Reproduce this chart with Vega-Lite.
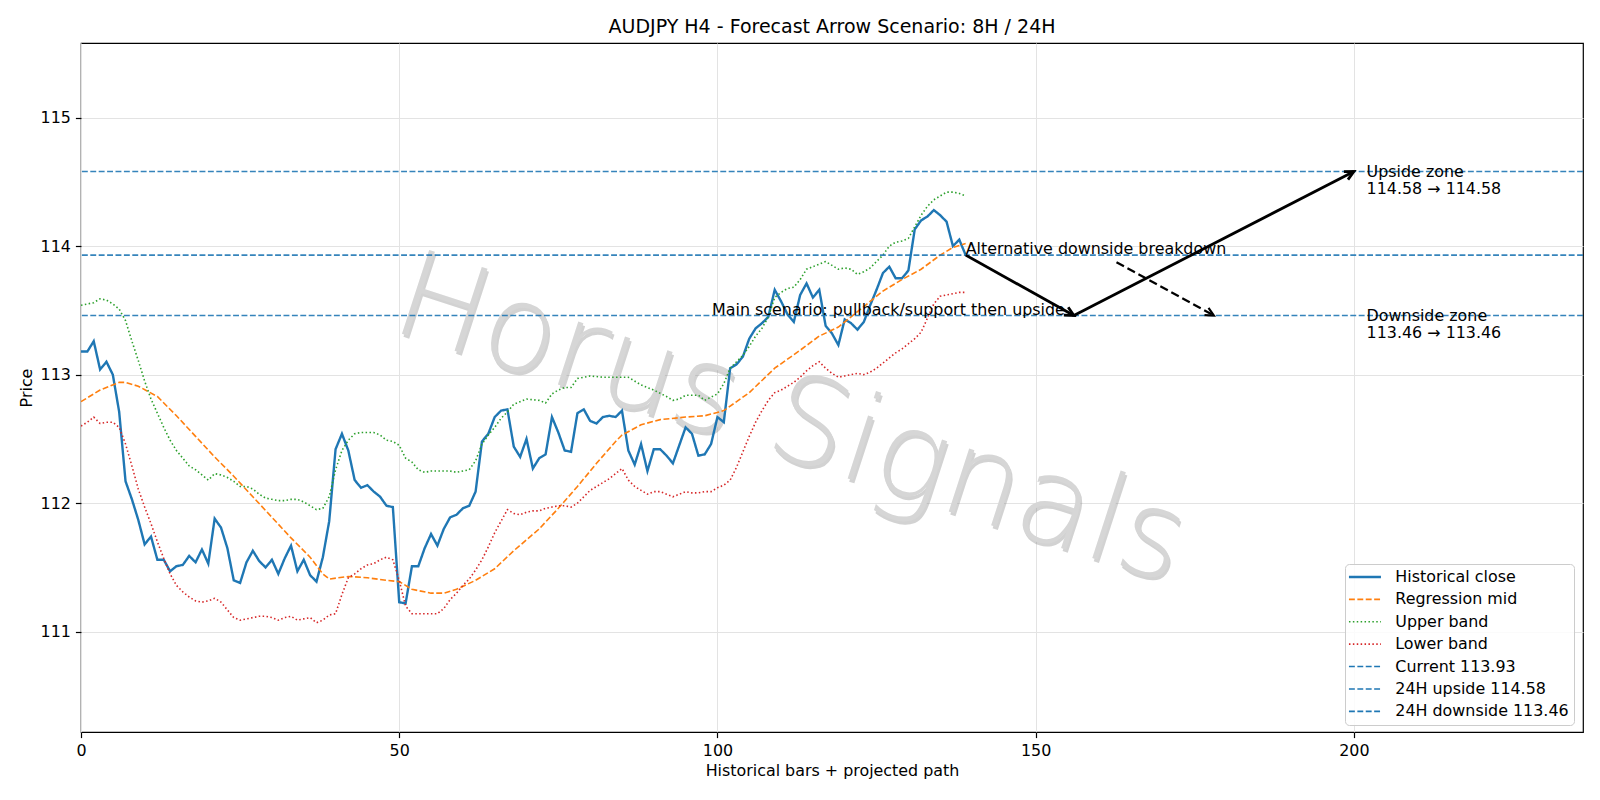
{
  "$schema": "https://vega.github.io/schema/vega-lite/v6.json",
  "width": 1502,
  "height": 689,
  "autosize": {"type": "none"},
  "padding": {"left": 81, "top": 43, "right": 17, "bottom": 68},
  "background": "white",
  "title": {"text": "AUDJPY H4 - Forecast Arrow Scenario: 8H / 24H", "font": "DejaVu Sans", "fontSize": 19, "fontWeight": "normal", "color": "black", "baseline": "alphabetic", "offset": 9.5, "dy": 18.3, "anchor": "middle"},
  "config": {
    "font": "DejaVu Sans",
    "view": {"stroke": "black", "strokeWidth": 1.2},
    "axis": {"domain": false, "grid": true, "gridColor": "#e3e3e3", "gridWidth": 1, "tickColor": "black", "tickSize": 5.6, "tickWidth": 1.2, "labelFont": "DejaVu Sans", "labelFontSize": 15.9, "labelColor": "black", "labelPadding": 5, "titleFont": "DejaVu Sans", "titleFontSize": 15.9, "titleFontWeight": "normal", "titleColor": "black", "labelFlush": false, "labelOverlap": false},
    "legend": {"orient": "none", "legendX": 1264, "legendY": 521, "title": null, "symbolType": "M-1.8,0H4.6", "symbolSize": 100, "labelFont": "DejaVu Sans", "labelFontSize": 15.9, "labelColor": "black", "labelOffset": 29.4, "padding": 5, "rowPadding": 5.4, "columnPadding": 0, "fillColor": "rgba(255,255,255,0.85)", "strokeColor": "#cccccc", "cornerRadius": 4, "labelLimit": 400}
  },
  "datasets": {
    "lines": [
      {"series": "Historical close", "x": 0, "price": 113.18}, {"series": "Historical close", "x": 1, "price": 113.18}, {"series": "Historical close", "x": 2, "price": 113.26}, {"series": "Historical close", "x": 3, "price": 113.04}, {"series": "Historical close", "x": 4, "price": 113.10}, {"series": "Historical close", "x": 5, "price": 113.00}, {"series": "Historical close", "x": 6, "price": 112.71}, {"series": "Historical close", "x": 7, "price": 112.17}, {"series": "Historical close", "x": 8, "price": 112.03}, {"series": "Historical close", "x": 9, "price": 111.87},
      {"series": "Historical close", "x": 10, "price": 111.68}, {"series": "Historical close", "x": 11, "price": 111.74}, {"series": "Historical close", "x": 12, "price": 111.56}, {"series": "Historical close", "x": 13, "price": 111.56}, {"series": "Historical close", "x": 14, "price": 111.47}, {"series": "Historical close", "x": 15, "price": 111.51}, {"series": "Historical close", "x": 16, "price": 111.52}, {"series": "Historical close", "x": 17, "price": 111.59}, {"series": "Historical close", "x": 18, "price": 111.54}, {"series": "Historical close", "x": 19, "price": 111.64},
      {"series": "Historical close", "x": 20, "price": 111.53}, {"series": "Historical close", "x": 21, "price": 111.88}, {"series": "Historical close", "x": 22, "price": 111.81}, {"series": "Historical close", "x": 23, "price": 111.65}, {"series": "Historical close", "x": 24, "price": 111.40}, {"series": "Historical close", "x": 25, "price": 111.38}, {"series": "Historical close", "x": 26, "price": 111.54}, {"series": "Historical close", "x": 27, "price": 111.63}, {"series": "Historical close", "x": 28, "price": 111.55}, {"series": "Historical close", "x": 29, "price": 111.50},
      {"series": "Historical close", "x": 30, "price": 111.56}, {"series": "Historical close", "x": 31, "price": 111.45}, {"series": "Historical close", "x": 32, "price": 111.57}, {"series": "Historical close", "x": 33, "price": 111.67}, {"series": "Historical close", "x": 34, "price": 111.47}, {"series": "Historical close", "x": 35, "price": 111.56}, {"series": "Historical close", "x": 36, "price": 111.44}, {"series": "Historical close", "x": 37, "price": 111.39}, {"series": "Historical close", "x": 38, "price": 111.58}, {"series": "Historical close", "x": 39, "price": 111.86},
      {"series": "Historical close", "x": 40, "price": 112.42}, {"series": "Historical close", "x": 41, "price": 112.54}, {"series": "Historical close", "x": 42, "price": 112.41}, {"series": "Historical close", "x": 43, "price": 112.18}, {"series": "Historical close", "x": 44, "price": 112.12}, {"series": "Historical close", "x": 45, "price": 112.14}, {"series": "Historical close", "x": 46, "price": 112.09}, {"series": "Historical close", "x": 47, "price": 112.05}, {"series": "Historical close", "x": 48, "price": 111.98}, {"series": "Historical close", "x": 49, "price": 111.97},
      {"series": "Historical close", "x": 50, "price": 111.23}, {"series": "Historical close", "x": 51, "price": 111.22}, {"series": "Historical close", "x": 52, "price": 111.51}, {"series": "Historical close", "x": 53, "price": 111.51}, {"series": "Historical close", "x": 54, "price": 111.65}, {"series": "Historical close", "x": 55, "price": 111.76}, {"series": "Historical close", "x": 56, "price": 111.67}, {"series": "Historical close", "x": 57, "price": 111.80}, {"series": "Historical close", "x": 58, "price": 111.89}, {"series": "Historical close", "x": 59, "price": 111.91},
      {"series": "Historical close", "x": 60, "price": 111.96}, {"series": "Historical close", "x": 61, "price": 111.98}, {"series": "Historical close", "x": 62, "price": 112.09}, {"series": "Historical close", "x": 63, "price": 112.48}, {"series": "Historical close", "x": 64, "price": 112.54}, {"series": "Historical close", "x": 65, "price": 112.67}, {"series": "Historical close", "x": 66, "price": 112.72}, {"series": "Historical close", "x": 67, "price": 112.73}, {"series": "Historical close", "x": 68, "price": 112.44}, {"series": "Historical close", "x": 69, "price": 112.36},
      {"series": "Historical close", "x": 70, "price": 112.50}, {"series": "Historical close", "x": 71, "price": 112.27}, {"series": "Historical close", "x": 72, "price": 112.35}, {"series": "Historical close", "x": 73, "price": 112.38}, {"series": "Historical close", "x": 74, "price": 112.67}, {"series": "Historical close", "x": 75, "price": 112.55}, {"series": "Historical close", "x": 76, "price": 112.41}, {"series": "Historical close", "x": 77, "price": 112.40}, {"series": "Historical close", "x": 78, "price": 112.70}, {"series": "Historical close", "x": 79, "price": 112.73},
      {"series": "Historical close", "x": 80, "price": 112.64}, {"series": "Historical close", "x": 81, "price": 112.62}, {"series": "Historical close", "x": 82, "price": 112.67}, {"series": "Historical close", "x": 83, "price": 112.68}, {"series": "Historical close", "x": 84, "price": 112.67}, {"series": "Historical close", "x": 85, "price": 112.72}, {"series": "Historical close", "x": 86, "price": 112.41}, {"series": "Historical close", "x": 87, "price": 112.30}, {"series": "Historical close", "x": 88, "price": 112.46}, {"series": "Historical close", "x": 89, "price": 112.25},
      {"series": "Historical close", "x": 90, "price": 112.42}, {"series": "Historical close", "x": 91, "price": 112.42}, {"series": "Historical close", "x": 92, "price": 112.37}, {"series": "Historical close", "x": 93, "price": 112.31}, {"series": "Historical close", "x": 94, "price": 112.45}, {"series": "Historical close", "x": 95, "price": 112.59}, {"series": "Historical close", "x": 96, "price": 112.54}, {"series": "Historical close", "x": 97, "price": 112.37}, {"series": "Historical close", "x": 98, "price": 112.38}, {"series": "Historical close", "x": 99, "price": 112.46},
      {"series": "Historical close", "x": 100, "price": 112.67}, {"series": "Historical close", "x": 101, "price": 112.63}, {"series": "Historical close", "x": 102, "price": 113.05}, {"series": "Historical close", "x": 103, "price": 113.08}, {"series": "Historical close", "x": 104, "price": 113.14}, {"series": "Historical close", "x": 105, "price": 113.28}, {"series": "Historical close", "x": 106, "price": 113.36}, {"series": "Historical close", "x": 107, "price": 113.40}, {"series": "Historical close", "x": 108, "price": 113.45}, {"series": "Historical close", "x": 109, "price": 113.66},
      {"series": "Historical close", "x": 110, "price": 113.57}, {"series": "Historical close", "x": 111, "price": 113.47}, {"series": "Historical close", "x": 112, "price": 113.41}, {"series": "Historical close", "x": 113, "price": 113.62}, {"series": "Historical close", "x": 114, "price": 113.71}, {"series": "Historical close", "x": 115, "price": 113.60}, {"series": "Historical close", "x": 116, "price": 113.66}, {"series": "Historical close", "x": 117, "price": 113.38}, {"series": "Historical close", "x": 118, "price": 113.32}, {"series": "Historical close", "x": 119, "price": 113.23},
      {"series": "Historical close", "x": 120, "price": 113.43}, {"series": "Historical close", "x": 121, "price": 113.40}, {"series": "Historical close", "x": 122, "price": 113.35}, {"series": "Historical close", "x": 123, "price": 113.41}, {"series": "Historical close", "x": 124, "price": 113.54}, {"series": "Historical close", "x": 125, "price": 113.66}, {"series": "Historical close", "x": 126, "price": 113.79}, {"series": "Historical close", "x": 127, "price": 113.84}, {"series": "Historical close", "x": 128, "price": 113.75}, {"series": "Historical close", "x": 129, "price": 113.75},
      {"series": "Historical close", "x": 130, "price": 113.81}, {"series": "Historical close", "x": 131, "price": 114.13}, {"series": "Historical close", "x": 132, "price": 114.20}, {"series": "Historical close", "x": 133, "price": 114.23}, {"series": "Historical close", "x": 134, "price": 114.28}, {"series": "Historical close", "x": 135, "price": 114.24}, {"series": "Historical close", "x": 136, "price": 114.19}, {"series": "Historical close", "x": 137, "price": 114.00}, {"series": "Historical close", "x": 138, "price": 114.05}, {"series": "Historical close", "x": 139, "price": 113.93},

      {"series": "Regression mid", "x": 0, "price": 112.79}, {"series": "Regression mid", "x": 3, "price": 112.88}, {"series": "Regression mid", "x": 6, "price": 112.94}, {"series": "Regression mid", "x": 7, "price": 112.94}, {"series": "Regression mid", "x": 9, "price": 112.91}, {"series": "Regression mid", "x": 12, "price": 112.83}, {"series": "Regression mid", "x": 15, "price": 112.68}, {"series": "Regression mid", "x": 18, "price": 112.52}, {"series": "Regression mid", "x": 21, "price": 112.36}, {"series": "Regression mid", "x": 24, "price": 112.21},
      {"series": "Regression mid", "x": 27, "price": 112.05}, {"series": "Regression mid", "x": 30, "price": 111.89}, {"series": "Regression mid", "x": 33, "price": 111.73}, {"series": "Regression mid", "x": 36, "price": 111.58}, {"series": "Regression mid", "x": 38, "price": 111.45}, {"series": "Regression mid", "x": 39, "price": 111.41}, {"series": "Regression mid", "x": 42, "price": 111.43}, {"series": "Regression mid", "x": 45, "price": 111.42}, {"series": "Regression mid", "x": 48, "price": 111.40}, {"series": "Regression mid", "x": 50, "price": 111.39},
      {"series": "Regression mid", "x": 52, "price": 111.33}, {"series": "Regression mid", "x": 55, "price": 111.30}, {"series": "Regression mid", "x": 57, "price": 111.30}, {"series": "Regression mid", "x": 59, "price": 111.33}, {"series": "Regression mid", "x": 62, "price": 111.40}, {"series": "Regression mid", "x": 65, "price": 111.49}, {"series": "Regression mid", "x": 68, "price": 111.63}, {"series": "Regression mid", "x": 72, "price": 111.80}, {"series": "Regression mid", "x": 75, "price": 111.96}, {"series": "Regression mid", "x": 78, "price": 112.13},
      {"series": "Regression mid", "x": 81, "price": 112.31}, {"series": "Regression mid", "x": 84, "price": 112.48}, {"series": "Regression mid", "x": 85, "price": 112.53}, {"series": "Regression mid", "x": 88, "price": 112.61}, {"series": "Regression mid", "x": 91, "price": 112.65}, {"series": "Regression mid", "x": 95, "price": 112.67}, {"series": "Regression mid", "x": 98, "price": 112.68}, {"series": "Regression mid", "x": 101, "price": 112.72}, {"series": "Regression mid", "x": 105, "price": 112.86}, {"series": "Regression mid", "x": 109, "price": 113.05},
      {"series": "Regression mid", "x": 113, "price": 113.19}, {"series": "Regression mid", "x": 116, "price": 113.30}, {"series": "Regression mid", "x": 119, "price": 113.37}, {"series": "Regression mid", "x": 122, "price": 113.49}, {"series": "Regression mid", "x": 126, "price": 113.65}, {"series": "Regression mid", "x": 129, "price": 113.74}, {"series": "Regression mid", "x": 132, "price": 113.82}, {"series": "Regression mid", "x": 135, "price": 113.93}, {"series": "Regression mid", "x": 137, "price": 113.99}, {"series": "Regression mid", "x": 139, "price": 114.02},

      {"series": "Upper band", "x": 0, "price": 113.54}, {"series": "Upper band", "x": 2, "price": 113.56}, {"series": "Upper band", "x": 3, "price": 113.59}, {"series": "Upper band", "x": 4, "price": 113.58}, {"series": "Upper band", "x": 5, "price": 113.55}, {"series": "Upper band", "x": 6, "price": 113.51}, {"series": "Upper band", "x": 7, "price": 113.42}, {"series": "Upper band", "x": 8, "price": 113.26}, {"series": "Upper band", "x": 9, "price": 113.11}, {"series": "Upper band", "x": 10, "price": 112.95},
      {"series": "Upper band", "x": 11, "price": 112.81}, {"series": "Upper band", "x": 12, "price": 112.70}, {"series": "Upper band", "x": 13, "price": 112.59}, {"series": "Upper band", "x": 14, "price": 112.49}, {"series": "Upper band", "x": 15, "price": 112.41}, {"series": "Upper band", "x": 16, "price": 112.35}, {"series": "Upper band", "x": 17, "price": 112.29}, {"series": "Upper band", "x": 18, "price": 112.26}, {"series": "Upper band", "x": 19, "price": 112.22}, {"series": "Upper band", "x": 20, "price": 112.18},
      {"series": "Upper band", "x": 21, "price": 112.23}, {"series": "Upper band", "x": 22, "price": 112.22}, {"series": "Upper band", "x": 23, "price": 112.20}, {"series": "Upper band", "x": 24, "price": 112.17}, {"series": "Upper band", "x": 25, "price": 112.13}, {"series": "Upper band", "x": 26, "price": 112.13}, {"series": "Upper band", "x": 27, "price": 112.11}, {"series": "Upper band", "x": 28, "price": 112.07}, {"series": "Upper band", "x": 29, "price": 112.04}, {"series": "Upper band", "x": 30, "price": 112.03},
      {"series": "Upper band", "x": 31, "price": 112.02}, {"series": "Upper band", "x": 32, "price": 112.02}, {"series": "Upper band", "x": 33, "price": 112.03}, {"series": "Upper band", "x": 34, "price": 112.03}, {"series": "Upper band", "x": 35, "price": 112.01}, {"series": "Upper band", "x": 36, "price": 111.98}, {"series": "Upper band", "x": 37, "price": 111.95}, {"series": "Upper band", "x": 38, "price": 111.96}, {"series": "Upper band", "x": 39, "price": 112.05}, {"series": "Upper band", "x": 40, "price": 112.26},
      {"series": "Upper band", "x": 41, "price": 112.41}, {"series": "Upper band", "x": 42, "price": 112.49}, {"series": "Upper band", "x": 43, "price": 112.54}, {"series": "Upper band", "x": 44, "price": 112.55}, {"series": "Upper band", "x": 45, "price": 112.55}, {"series": "Upper band", "x": 46, "price": 112.55}, {"series": "Upper band", "x": 47, "price": 112.53}, {"series": "Upper band", "x": 48, "price": 112.49}, {"series": "Upper band", "x": 49, "price": 112.48}, {"series": "Upper band", "x": 50, "price": 112.45},
      {"series": "Upper band", "x": 51, "price": 112.35}, {"series": "Upper band", "x": 52, "price": 112.32}, {"series": "Upper band", "x": 53, "price": 112.26}, {"series": "Upper band", "x": 54, "price": 112.24}, {"series": "Upper band", "x": 55, "price": 112.25}, {"series": "Upper band", "x": 56, "price": 112.25}, {"series": "Upper band", "x": 57, "price": 112.25}, {"series": "Upper band", "x": 58, "price": 112.25}, {"series": "Upper band", "x": 59, "price": 112.24}, {"series": "Upper band", "x": 60, "price": 112.25},
      {"series": "Upper band", "x": 61, "price": 112.26}, {"series": "Upper band", "x": 62, "price": 112.33}, {"series": "Upper band", "x": 63, "price": 112.46}, {"series": "Upper band", "x": 64, "price": 112.53}, {"series": "Upper band", "x": 65, "price": 112.59}, {"series": "Upper band", "x": 66, "price": 112.66}, {"series": "Upper band", "x": 67, "price": 112.71}, {"series": "Upper band", "x": 68, "price": 112.77}, {"series": "Upper band", "x": 69, "price": 112.79}, {"series": "Upper band", "x": 70, "price": 112.81},
      {"series": "Upper band", "x": 72, "price": 112.80}, {"series": "Upper band", "x": 73, "price": 112.78}, {"series": "Upper band", "x": 74, "price": 112.85}, {"series": "Upper band", "x": 75, "price": 112.88}, {"series": "Upper band", "x": 76, "price": 112.90}, {"series": "Upper band", "x": 77, "price": 112.90}, {"series": "Upper band", "x": 78, "price": 112.97}, {"series": "Upper band", "x": 79, "price": 112.98}, {"series": "Upper band", "x": 80, "price": 112.99}, {"series": "Upper band", "x": 82, "price": 112.98},
      {"series": "Upper band", "x": 84, "price": 112.98}, {"series": "Upper band", "x": 86, "price": 112.98}, {"series": "Upper band", "x": 88, "price": 112.92}, {"series": "Upper band", "x": 90, "price": 112.88}, {"series": "Upper band", "x": 92, "price": 112.83}, {"series": "Upper band", "x": 93, "price": 112.80}, {"series": "Upper band", "x": 94, "price": 112.81}, {"series": "Upper band", "x": 95, "price": 112.84}, {"series": "Upper band", "x": 97, "price": 112.84}, {"series": "Upper band", "x": 98, "price": 112.80},
      {"series": "Upper band", "x": 100, "price": 112.85}, {"series": "Upper band", "x": 101, "price": 112.93}, {"series": "Upper band", "x": 102, "price": 113.05}, {"series": "Upper band", "x": 103, "price": 113.10}, {"series": "Upper band", "x": 104, "price": 113.15}, {"series": "Upper band", "x": 105, "price": 113.22}, {"series": "Upper band", "x": 106, "price": 113.30}, {"series": "Upper band", "x": 107, "price": 113.36}, {"series": "Upper band", "x": 108, "price": 113.45}, {"series": "Upper band", "x": 109, "price": 113.60},
      {"series": "Upper band", "x": 110, "price": 113.64}, {"series": "Upper band", "x": 111, "price": 113.67}, {"series": "Upper band", "x": 112, "price": 113.68}, {"series": "Upper band", "x": 113, "price": 113.74}, {"series": "Upper band", "x": 114, "price": 113.82}, {"series": "Upper band", "x": 115, "price": 113.84}, {"series": "Upper band", "x": 116, "price": 113.86}, {"series": "Upper band", "x": 117, "price": 113.88}, {"series": "Upper band", "x": 118, "price": 113.85}, {"series": "Upper band", "x": 119, "price": 113.82},
      {"series": "Upper band", "x": 120, "price": 113.83}, {"series": "Upper band", "x": 121, "price": 113.82}, {"series": "Upper band", "x": 122, "price": 113.78}, {"series": "Upper band", "x": 123, "price": 113.80}, {"series": "Upper band", "x": 124, "price": 113.83}, {"series": "Upper band", "x": 125, "price": 113.88}, {"series": "Upper band", "x": 126, "price": 113.93}, {"series": "Upper band", "x": 127, "price": 114.00}, {"series": "Upper band", "x": 128, "price": 114.03}, {"series": "Upper band", "x": 129, "price": 114.04},
      {"series": "Upper band", "x": 130, "price": 114.06}, {"series": "Upper band", "x": 131, "price": 114.15}, {"series": "Upper band", "x": 132, "price": 114.24}, {"series": "Upper band", "x": 133, "price": 114.31}, {"series": "Upper band", "x": 134, "price": 114.36}, {"series": "Upper band", "x": 135, "price": 114.39}, {"series": "Upper band", "x": 136, "price": 114.42}, {"series": "Upper band", "x": 137, "price": 114.42}, {"series": "Upper band", "x": 138, "price": 114.41}, {"series": "Upper band", "x": 139, "price": 114.39},

      {"series": "Lower band", "x": 0, "price": 112.60}, {"series": "Lower band", "x": 1, "price": 112.63}, {"series": "Lower band", "x": 2, "price": 112.67}, {"series": "Lower band", "x": 3, "price": 112.62}, {"series": "Lower band", "x": 4, "price": 112.63}, {"series": "Lower band", "x": 5, "price": 112.63}, {"series": "Lower band", "x": 6, "price": 112.59}, {"series": "Lower band", "x": 7, "price": 112.46}, {"series": "Lower band", "x": 8, "price": 112.29}, {"series": "Lower band", "x": 9, "price": 112.11},
      {"series": "Lower band", "x": 10, "price": 111.97}, {"series": "Lower band", "x": 11, "price": 111.84}, {"series": "Lower band", "x": 12, "price": 111.70}, {"series": "Lower band", "x": 13, "price": 111.57}, {"series": "Lower band", "x": 14, "price": 111.45}, {"series": "Lower band", "x": 15, "price": 111.36}, {"series": "Lower band", "x": 16, "price": 111.31}, {"series": "Lower band", "x": 17, "price": 111.27}, {"series": "Lower band", "x": 18, "price": 111.24}, {"series": "Lower band", "x": 19, "price": 111.23},
      {"series": "Lower band", "x": 20, "price": 111.24}, {"series": "Lower band", "x": 21, "price": 111.26}, {"series": "Lower band", "x": 22, "price": 111.23}, {"series": "Lower band", "x": 23, "price": 111.17}, {"series": "Lower band", "x": 24, "price": 111.11}, {"series": "Lower band", "x": 25, "price": 111.09}, {"series": "Lower band", "x": 26, "price": 111.10}, {"series": "Lower band", "x": 27, "price": 111.11}, {"series": "Lower band", "x": 28, "price": 111.12}, {"series": "Lower band", "x": 29, "price": 111.12},
      {"series": "Lower band", "x": 30, "price": 111.11}, {"series": "Lower band", "x": 31, "price": 111.09}, {"series": "Lower band", "x": 32, "price": 111.11}, {"series": "Lower band", "x": 33, "price": 111.12}, {"series": "Lower band", "x": 34, "price": 111.09}, {"series": "Lower band", "x": 35, "price": 111.10}, {"series": "Lower band", "x": 36, "price": 111.11}, {"series": "Lower band", "x": 37, "price": 111.07}, {"series": "Lower band", "x": 38, "price": 111.09}, {"series": "Lower band", "x": 39, "price": 111.13},
      {"series": "Lower band", "x": 40, "price": 111.14}, {"series": "Lower band", "x": 41, "price": 111.29}, {"series": "Lower band", "x": 42, "price": 111.42}, {"series": "Lower band", "x": 43, "price": 111.45}, {"series": "Lower band", "x": 44, "price": 111.49}, {"series": "Lower band", "x": 45, "price": 111.52}, {"series": "Lower band", "x": 46, "price": 111.53}, {"series": "Lower band", "x": 47, "price": 111.56}, {"series": "Lower band", "x": 48, "price": 111.58}, {"series": "Lower band", "x": 49, "price": 111.56},
      {"series": "Lower band", "x": 50, "price": 111.40}, {"series": "Lower band", "x": 51, "price": 111.20}, {"series": "Lower band", "x": 52, "price": 111.14}, {"series": "Lower band", "x": 53, "price": 111.14}, {"series": "Lower band", "x": 54, "price": 111.14}, {"series": "Lower band", "x": 55, "price": 111.14}, {"series": "Lower band", "x": 56, "price": 111.14}, {"series": "Lower band", "x": 57, "price": 111.18}, {"series": "Lower band", "x": 58, "price": 111.25}, {"series": "Lower band", "x": 59, "price": 111.30},
      {"series": "Lower band", "x": 60, "price": 111.36}, {"series": "Lower band", "x": 61, "price": 111.41}, {"series": "Lower band", "x": 62, "price": 111.48}, {"series": "Lower band", "x": 63, "price": 111.56}, {"series": "Lower band", "x": 64, "price": 111.66}, {"series": "Lower band", "x": 65, "price": 111.77}, {"series": "Lower band", "x": 66, "price": 111.86}, {"series": "Lower band", "x": 67, "price": 111.95}, {"series": "Lower band", "x": 68, "price": 111.92}, {"series": "Lower band", "x": 69, "price": 111.91},
      {"series": "Lower band", "x": 70, "price": 111.93}, {"series": "Lower band", "x": 71, "price": 111.94}, {"series": "Lower band", "x": 72, "price": 111.94}, {"series": "Lower band", "x": 73, "price": 111.96}, {"series": "Lower band", "x": 74, "price": 111.97}, {"series": "Lower band", "x": 75, "price": 111.98}, {"series": "Lower band", "x": 76, "price": 111.98}, {"series": "Lower band", "x": 77, "price": 111.97}, {"series": "Lower band", "x": 78, "price": 112.00}, {"series": "Lower band", "x": 79, "price": 112.05},
      {"series": "Lower band", "x": 80, "price": 112.10}, {"series": "Lower band", "x": 81, "price": 112.13}, {"series": "Lower band", "x": 82, "price": 112.16}, {"series": "Lower band", "x": 83, "price": 112.19}, {"series": "Lower band", "x": 84, "price": 112.23}, {"series": "Lower band", "x": 85, "price": 112.27}, {"series": "Lower band", "x": 86, "price": 112.18}, {"series": "Lower band", "x": 87, "price": 112.13}, {"series": "Lower band", "x": 88, "price": 112.10}, {"series": "Lower band", "x": 89, "price": 112.07},
      {"series": "Lower band", "x": 90, "price": 112.09}, {"series": "Lower band", "x": 91, "price": 112.09}, {"series": "Lower band", "x": 92, "price": 112.07}, {"series": "Lower band", "x": 93, "price": 112.05}, {"series": "Lower band", "x": 94, "price": 112.07}, {"series": "Lower band", "x": 95, "price": 112.09}, {"series": "Lower band", "x": 96, "price": 112.08}, {"series": "Lower band", "x": 97, "price": 112.08}, {"series": "Lower band", "x": 98, "price": 112.09}, {"series": "Lower band", "x": 99, "price": 112.09},
      {"series": "Lower band", "x": 100, "price": 112.12}, {"series": "Lower band", "x": 101, "price": 112.14}, {"series": "Lower band", "x": 102, "price": 112.18}, {"series": "Lower band", "x": 103, "price": 112.28}, {"series": "Lower band", "x": 104, "price": 112.40}, {"series": "Lower band", "x": 105, "price": 112.52}, {"series": "Lower band", "x": 106, "price": 112.63}, {"series": "Lower band", "x": 107, "price": 112.72}, {"series": "Lower band", "x": 108, "price": 112.80}, {"series": "Lower band", "x": 109, "price": 112.86},
      {"series": "Lower band", "x": 110, "price": 112.88}, {"series": "Lower band", "x": 111, "price": 112.91}, {"series": "Lower band", "x": 112, "price": 112.94}, {"series": "Lower band", "x": 113, "price": 112.98}, {"series": "Lower band", "x": 114, "price": 113.03}, {"series": "Lower band", "x": 115, "price": 113.07}, {"series": "Lower band", "x": 116, "price": 113.10}, {"series": "Lower band", "x": 117, "price": 113.05}, {"series": "Lower band", "x": 118, "price": 113.01}, {"series": "Lower band", "x": 119, "price": 112.98},
      {"series": "Lower band", "x": 120, "price": 112.99}, {"series": "Lower band", "x": 121, "price": 113.00}, {"series": "Lower band", "x": 122, "price": 113.01}, {"series": "Lower band", "x": 123, "price": 113.00}, {"series": "Lower band", "x": 124, "price": 113.02}, {"series": "Lower band", "x": 125, "price": 113.05}, {"series": "Lower band", "x": 126, "price": 113.09}, {"series": "Lower band", "x": 127, "price": 113.13}, {"series": "Lower band", "x": 128, "price": 113.17}, {"series": "Lower band", "x": 129, "price": 113.20},
      {"series": "Lower band", "x": 130, "price": 113.24}, {"series": "Lower band", "x": 131, "price": 113.28}, {"series": "Lower band", "x": 132, "price": 113.33}, {"series": "Lower band", "x": 133, "price": 113.44}, {"series": "Lower band", "x": 134, "price": 113.55}, {"series": "Lower band", "x": 135, "price": 113.61}, {"series": "Lower band", "x": 136, "price": 113.62}, {"series": "Lower band", "x": 137, "price": 113.63}, {"series": "Lower band", "x": 138, "price": 113.64}, {"series": "Lower band", "x": 139, "price": 113.64}
    ],
    "levels": [
      {"series": "Current 113.93", "price": 113.93},
      {"series": "24H upside 114.58", "price": 114.58},
      {"series": "24H downside 113.46", "price": 113.46}
    ],
    "arrows": [
      {"seg": "a1", "x": 139, "price": 113.93},
      {"seg": "a1", "x": 156, "price": 113.46},
      {"seg": "a2", "x": 156, "price": 113.46},
      {"seg": "a2", "x": 200, "price": 114.58}
    ],
    "altarrow": [
      {"x": 162.7, "price": 113.875},
      {"x": 178, "price": 113.46}
    ],
    "one": [{}]
  },
  "layer": [
    {
      "data": {"name": "one"},
      "mark": {"type": "text", "text": "Horus Signals", "font": "DejaVu Sans", "fontSize": 121, "fontWeight": 200, "angle": 18, "align": "center", "baseline": "middle", "fill": "#8a8a8a", "opacity": 0.38, "dx": 2.5, "dy": 2.5},
      "encoding": {
        "x": {"datum": 111.5, "type": "quantitative"},
        "y": {"datum": 112.63, "type": "quantitative"}
      }
    },
    {
      "data": {"name": "one"},
      "mark": {"type": "text", "text": "Horus Signals", "font": "DejaVu Sans", "fontSize": 121, "fontWeight": 200, "angle": 18, "align": "center", "baseline": "middle", "fill": "#d6d6d6"},
      "encoding": {
        "x": {"datum": 111.5, "type": "quantitative"},
        "y": {"datum": 112.63, "type": "quantitative"}
      }
    },
    {
      "data": {"name": "lines"},
      "mark": {"type": "line", "clip": true},
      "encoding": {
        "x": {"field": "x", "type": "quantitative", "scale": {"domain": [0, 236], "nice": false, "zero": false}, "axis": {"values": [0, 50, 100, 150, 200], "format": "d", "titlePadding": 4}, "title": "Historical bars + projected path"},
        "y": {"field": "price", "type": "quantitative", "scale": {"domain": [110.22, 115.58], "nice": false, "zero": false}, "axis": {"values": [111, 112, 113, 114, 115], "format": "d", "titlePadding": 6}, "title": "Price"},
        "color": {"field": "series", "type": "nominal", "scale": {"domain": ["Historical close", "Regression mid", "Upper band", "Lower band", "Current 113.93", "24H upside 114.58", "24H downside 113.46"], "range": ["#1f77b4", "#ff7f0e", "#2ca02c", "#d62728", "#1f77b4", "#1f77b4", "#1f77b4"]}, "legend": {"encode": {"symbols": {"update": {"strokeWidth": {"signal": "datum.value === 'Historical close' ? 2.4 : 1.6"}}}}}},
        "strokeDash": {"field": "series", "type": "nominal", "scale": {"domain": ["Historical close", "Regression mid", "Upper band", "Lower band", "Current 113.93", "24H upside 114.58", "24H downside 113.46"], "range": [[1, 0], [5.9, 2.5], [1.5, 2.4], [1.5, 2.4], [5.9, 2.5], [5.9, 2.5], [5.9, 2.5]]}},
        "strokeWidth": {"field": "series", "type": "nominal", "scale": {"type": "ordinal", "domain": ["Historical close", "Regression mid", "Upper band", "Lower band", "Current 113.93", "24H upside 114.58", "24H downside 113.46"], "range": [2.4, 1.6, 1.6, 1.6, 1.6, 1.6, 1.6]}, "legend": null},
        "order": {"field": "x", "type": "quantitative"}
      }
    },
    {
      "data": {"name": "levels"},
      "mark": {"type": "rule", "color": "#1f77b4", "strokeDash": [5.9, 2.5], "strokeWidth": 1.6, "opacity": 0.9},
      "encoding": {
        "y": {"field": "price", "type": "quantitative"}
      }
    },
    {
      "data": {"name": "arrows"},
      "mark": {"type": "line", "color": "black", "strokeWidth": 2.8, "strokeCap": "butt"},
      "encoding": {
        "x": {"field": "x", "type": "quantitative"},
        "y": {"field": "price", "type": "quantitative"},
        "detail": {"field": "seg", "type": "nominal"}
      }
    },
    {
      "data": {"name": "altarrow"},
      "mark": {"type": "line", "color": "black", "strokeWidth": 2.2, "strokeDash": [8.5, 4]},
      "encoding": {
        "x": {"field": "x", "type": "quantitative"},
        "y": {"field": "price", "type": "quantitative"}
      }
    },
    {
      "data": {"name": "arrows"},
      "transform": [{"filter": "datum.seg == 'a1' && datum.x == 156"}],
      "mark": {"type": "point", "shape": "M-2,-1L0,0L-2,1", "size": 80, "angle": 29.2, "filled": false, "stroke": "black", "strokeWidth": 2.8, "opacity": 1, "strokeJoin": "miter"},
      "encoding": {
        "x": {"field": "x", "type": "quantitative"},
        "y": {"field": "price", "type": "quantitative"}
      }
    },
    {
      "data": {"name": "arrows"},
      "transform": [{"filter": "datum.seg == 'a2' && datum.x == 200"}],
      "mark": {"type": "point", "shape": "M-2,-1L0,0L-2,1", "size": 80, "angle": 332.8, "filled": false, "stroke": "black", "strokeWidth": 2.8, "opacity": 1, "strokeJoin": "miter"},
      "encoding": {
        "x": {"field": "x", "type": "quantitative"},
        "y": {"field": "price", "type": "quantitative"}
      }
    },
    {
      "data": {"name": "altarrow"},
      "transform": [{"filter": "datum.x == 178"}],
      "mark": {"type": "point", "shape": "M-2,-1L0,0L-2,1", "size": 70, "angle": 28.7, "filled": false, "stroke": "black", "strokeWidth": 2.2, "opacity": 1, "strokeJoin": "miter"},
      "encoding": {
        "x": {"field": "x", "type": "quantitative"},
        "y": {"field": "price", "type": "quantitative"}
      }
    },
    {
      "data": {"name": "one"},
      "mark": {"type": "text", "text": "Alternative downside breakdown", "font": "DejaVu Sans", "fontSize": 15.9, "align": "left", "baseline": "alphabetic", "dy": -1, "color": "black"},
      "encoding": {
        "x": {"datum": 139, "type": "quantitative"},
        "y": {"datum": 113.93, "type": "quantitative"}
      }
    },
    {
      "data": {"name": "one"},
      "mark": {"type": "text", "text": "Main scenario: pullback/support then upside", "font": "DejaVu Sans", "fontSize": 15.9, "align": "right", "baseline": "alphabetic", "dx": -9, "dy": -1, "color": "black"},
      "encoding": {
        "x": {"datum": 156, "type": "quantitative"},
        "y": {"datum": 113.46, "type": "quantitative"}
      }
    },
    {
      "data": {"name": "one"},
      "mark": {"type": "text", "text": ["Upside zone", "114.58 → 114.58"], "font": "DejaVu Sans", "fontSize": 15.9, "lineHeight": 17.6, "align": "left", "baseline": "middle", "color": "black"},
      "encoding": {
        "x": {"datum": 202, "type": "quantitative"},
        "y": {"datum": 114.58, "type": "quantitative"}
      }
    },
    {
      "data": {"name": "one"},
      "mark": {"type": "text", "text": ["Downside zone", "113.46 → 113.46"], "font": "DejaVu Sans", "fontSize": 15.9, "lineHeight": 17.6, "align": "left", "baseline": "middle", "color": "black"},
      "encoding": {
        "x": {"datum": 202, "type": "quantitative"},
        "y": {"datum": 113.46, "type": "quantitative"}
      }
    }
  ]
}
